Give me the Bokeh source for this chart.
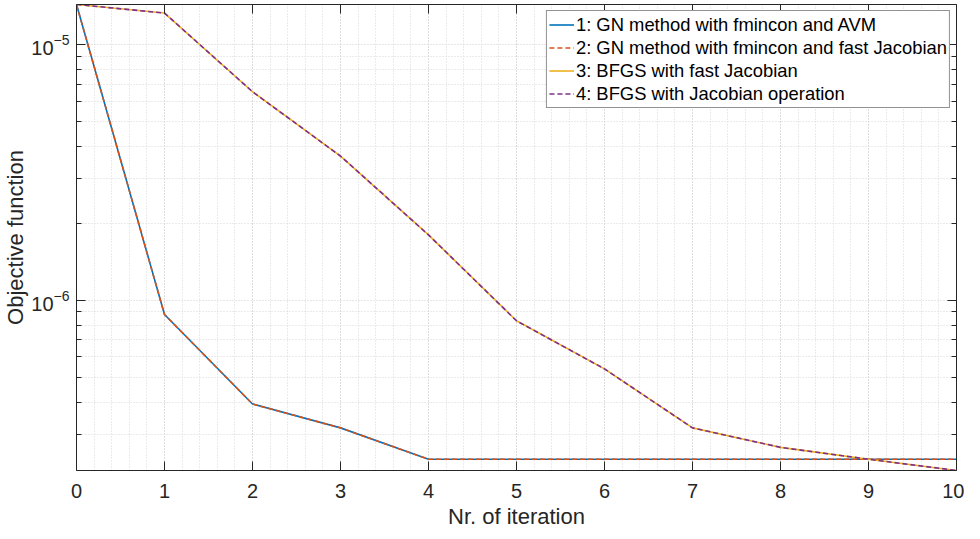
from bokeh.plotting import figure
from bokeh.models import (Range1d, FixedTicker, LogAxis, LinearAxis, Legend, LegendItem,
                          SingleIntervalTicker, LogTickFormatter, CustomJSTickFormatter)
from bokeh.embed import file_html
from bokeh.resources import INLINE

# ---- data ----
iterations = [0, 1, 2, 3, 4, 5, 6, 7, 8, 9, 10]
gn_avm = [1.432e-5, 8.79e-7, 3.93e-7, 3.17e-7, 2.39e-7, 2.39e-7, 2.39e-7, 2.39e-7, 2.39e-7, 2.39e-7, 2.39e-7]
gn_fast_jac = [1.432e-5, 8.79e-7, 3.93e-7, 3.17e-7, 2.39e-7, 2.39e-7, 2.39e-7, 2.39e-7, 2.39e-7, 2.39e-7, 2.39e-7]
bfgs_fast_jac = [1.432e-5, 1.326e-5, 6.53e-6, 3.66e-6, 1.80e-6, 8.31e-7, 5.39e-7, 3.17e-7, 2.66e-7, 2.39e-7, 2.16e-7]
bfgs_jac_op = [1.432e-5, 1.326e-5, 6.53e-6, 3.66e-6, 1.80e-6, 8.31e-7, 5.39e-7, 3.17e-7, 2.66e-7, 2.39e-7, 2.16e-7]

series_labels = ["1: GN method with fmincon and AVM",
                 "2: GN method with fmincon and fast Jacobian",
                 "3: BFGS with fast Jacobian",
                 "4: BFGS with Jacobian operation"]
series_colors = ["#0072BD", "#D95319", "#EDB120", "#7E2F8E"]
series_dash = ["solid", "5 3", "solid", "5 3"]

y_major_ticks = [1e-6, 1e-5]
y_minor_ticks = [k * 10.0 ** e for e in (-7, -6, -5) for k in range(2, 10)]

FONT = "Liberation Sans"
AX = "#262626"

all_vals = gn_avm + gn_fast_jac + bfgs_fast_jac + bfgs_jac_op

p = figure(width=964, height=531, output_backend="svg", toolbar_location=None,
           y_axis_type="log",
           x_range=Range1d(iterations[0], iterations[-1]),
           y_range=Range1d(min(all_vals), max(all_vals)),
           min_border_left=75, min_border_right=8, min_border_top=1, min_border_bottom=60)
p.margin = (0, 0, -8, 0)
p.outline_line_color = None
p.background_fill_color = "white"

xt = SingleIntervalTicker(interval=1, num_minor_ticks=5)
yt = FixedTicker(ticks=y_major_ticks, minor_ticks=y_minor_ticks)

# bottom axis
xa = p.xaxis[0]
xa.ticker = xt
xa.axis_label = "Nr. of iteration"
xa.axis_label_text_font = FONT
xa.axis_label_text_font_size = "22px"
xa.axis_label_text_font_style = "normal"
xa.axis_label_text_color = AX
xa.axis_label_standoff = 3
xa.major_label_text_font = FONT
xa.major_label_text_font_size = "20px"
xa.major_label_text_color = AX
xa.major_label_standoff = 9
xa.major_tick_in = 9
xa.major_tick_out = 0
xa.minor_tick_line_color = None
xa.axis_line_color = AX
xa.major_tick_line_color = AX

# left axis
ya = p.yaxis[0]
ya.ticker = yt
ya.formatter = LogTickFormatter()
ya.axis_label = "Objective function"
ya.axis_label_text_font = FONT
ya.axis_label_text_font_size = "22px"
ya.axis_label_text_font_style = "normal"
ya.axis_label_text_color = AX
ya.axis_label_standoff = 0
ya.major_label_text_font = FONT
ya.major_label_text_font_size = "20px"
ya.major_label_text_color = AX
ya.major_label_standoff = 7
ya.major_tick_in = 9
ya.major_tick_out = 0
ya.minor_tick_in = 5
ya.minor_tick_out = 0
ya.axis_line_color = AX
ya.major_tick_line_color = AX
ya.minor_tick_line_color = AX

# top and right box axes (ticks only, empty labels)
blank = CustomJSTickFormatter(code="return ''")
top = LinearAxis(ticker=xt, formatter=blank, major_tick_in=9, major_tick_out=0,
                 minor_tick_line_color=None,
                 major_label_text_font_size="1px", major_label_standoff=0,
                 axis_line_color=AX, major_tick_line_color=AX)
p.add_layout(top, "above")
right = LogAxis(ticker=yt, formatter=blank, major_tick_in=9, major_tick_out=0,
                minor_tick_in=5, minor_tick_out=0,
                major_label_text_font_size="1px", major_label_standoff=0,
                axis_line_color=AX, major_tick_line_color=AX, minor_tick_line_color=AX)
p.add_layout(right, "right")

# grids
p.xgrid.ticker = xt
p.ygrid.ticker = yt
for g in (p.xgrid, p.ygrid):
    g.grid_line_color = "#cfcfcf"
    g.grid_line_dash = "1 2"
    g.grid_line_width = 1
    g.minor_grid_line_color = "#d6d6d6"
    g.minor_grid_line_dash = "1 2"
    g.minor_grid_line_width = 1

# lines
series = [gn_avm, gn_fast_jac, bfgs_fast_jac, bfgs_jac_op]
items = []
for vals, lab, col, dash in zip(series, series_labels, series_colors, series_dash):
    r = p.line(iterations, vals, line_color=col, line_width=1.6, line_dash=dash)
    items.append(LegendItem(label=lab, renderers=[r]))

legend = Legend(items=items, location="top_right",
                label_text_font=FONT, label_text_font_size="18.4px", label_text_color="#000000",
                border_line_color=AX, border_line_width=1, background_fill_color="white",
                background_fill_alpha=1.0, padding=2, spacing=0, margin=6,
                glyph_width=25, glyph_height=23, label_height=23, label_standoff=2)
p.add_layout(legend)

open("out.html", "w").write(file_html(p, INLINE))
